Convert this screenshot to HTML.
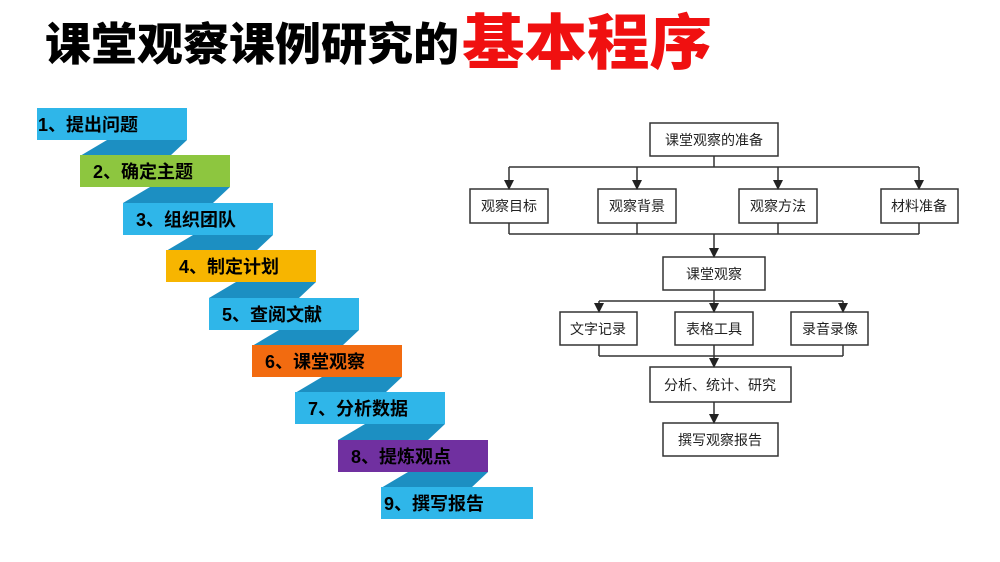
<!DOCTYPE html>
<html><head><meta charset="utf-8"><style>
body{margin:0;background:#fff}
svg{display:block}
</style></head><body>
<svg width="1000" height="562" viewBox="0 0 1000 562" xmlns="http://www.w3.org/2000/svg" font-family="'Liberation Sans','Noto Sans CJK SC',sans-serif">
<text x="45" y="60" font-size="45" font-weight="900" fill="#000" textLength="414" lengthAdjust="spacingAndGlyphs">课堂观察课例研究的</text>
<text x="462" y="64" font-size="60" font-weight="900" fill="#f01010" textLength="250" lengthAdjust="spacingAndGlyphs">基本程序</text>
<g id="stairs">
<g fill="#1c8fc2">
<polygon points="107,140 187,140 170,156 80,156"/>
<polygon points="150,187 230,187 213,203 123,203"/>
<polygon points="193,235 273,235 256,251 166,251"/>
<polygon points="236,282 316,282 299,298 209,298"/>
<polygon points="279,330 359,330 342,346 252,346"/>
<polygon points="322,377 402,377 385,393 295,393"/>
<polygon points="365,424 445,424 428,440 338,440"/>
<polygon points="408,472 488,472 471,488 381,488"/>
</g>
<rect x="37" y="108" width="150" height="32" fill="#2fb6e9"/>
<rect x="80" y="155" width="150" height="32" fill="#8dc63f"/>
<rect x="123" y="203" width="150" height="32" fill="#2fb6e9"/>
<rect x="166" y="250" width="150" height="32" fill="#f7b500"/>
<rect x="209" y="298" width="150" height="32" fill="#2fb6e9"/>
<rect x="252" y="345" width="150" height="32" fill="#f26b10"/>
<rect x="295" y="392" width="150" height="32" fill="#2fb6e9"/>
<rect x="338" y="440" width="150" height="32" fill="#7030a0"/>
<rect x="381" y="487" width="152" height="32" fill="#2fb6e9"/>
<g font-size="18" font-weight="bold" fill="#000">
<text x="38" y="131">1、提出问题</text>
<text x="93" y="178">2、确定主题</text>
<text x="136" y="226">3、组织团队</text>
<text x="179" y="273">4、制定计划</text>
<text x="222" y="321">5、查阅文献</text>
<text x="265" y="368">6、课堂观察</text>
<text x="308" y="415">7、分析数据</text>
<text x="351" y="463">8、提炼观点</text>
<text x="384" y="510">9、撰写报告</text>
</g>
</g>
<defs><marker id="a" markerWidth="10" markerHeight="10" refX="9" refY="5" orient="auto" markerUnits="userSpaceOnUse"><path d="M0,0 L10,5 L0,10 z" fill="#222"/></marker></defs>
<g stroke="#333" stroke-width="1.5" fill="none">
<rect x="650" y="123" width="128" height="33" fill="#fff"/>
<path d="M714,156 V167 M509,167 H919"/>
<line x1="509" y1="167" x2="509" y2="189" marker-end="url(#a)"/>
<line x1="637" y1="167" x2="637" y2="189" marker-end="url(#a)"/>
<line x1="778" y1="167" x2="778" y2="189" marker-end="url(#a)"/>
<line x1="919" y1="167" x2="919" y2="189" marker-end="url(#a)"/>
<rect x="470" y="189" width="78" height="34"/>
<rect x="598" y="189" width="78" height="34"/>
<rect x="739" y="189" width="78" height="34"/>
<rect x="881" y="189" width="77" height="34"/>
<path d="M509,223 V234 M637,223 V234 M778,223 V234 M919,223 V234 M509,234 H919"/>
<line x1="714" y1="234" x2="714" y2="257" marker-end="url(#a)"/>
<rect x="663" y="257" width="102" height="33"/>
<path d="M714,290 V301 M599,301 H843"/>
<line x1="599" y1="301" x2="599" y2="312" marker-end="url(#a)"/>
<line x1="714" y1="301" x2="714" y2="312" marker-end="url(#a)"/>
<line x1="843" y1="301" x2="843" y2="312" marker-end="url(#a)"/>
<rect x="560" y="312" width="77" height="33"/>
<rect x="675" y="312" width="78" height="33"/>
<rect x="791" y="312" width="77" height="33"/>
<path d="M599,345 V356 M843,345 V356 M599,356 H843 M714,345 V356"/>
<line x1="714" y1="356" x2="714" y2="367" marker-end="url(#a)"/>
<rect x="650" y="367" width="141" height="35"/>
<line x1="714" y1="402" x2="714" y2="423" marker-end="url(#a)"/>
<rect x="663" y="423" width="115" height="33"/>
</g>
<g font-size="14" fill="#222" text-anchor="middle">
<text x="714" y="145">课堂观察的准备</text>
<text x="509" y="211">观察目标</text>
<text x="637" y="211">观察背景</text>
<text x="778" y="211">观察方法</text>
<text x="919" y="211">材料准备</text>
<text x="714" y="279">课堂观察</text>
<text x="598" y="334">文字记录</text>
<text x="714" y="334">表格工具</text>
<text x="830" y="334">录音录像</text>
<text x="720" y="390">分析、统计、研究</text>
<text x="720" y="445">撰写观察报告</text>
</g>
</svg>
</body></html>
